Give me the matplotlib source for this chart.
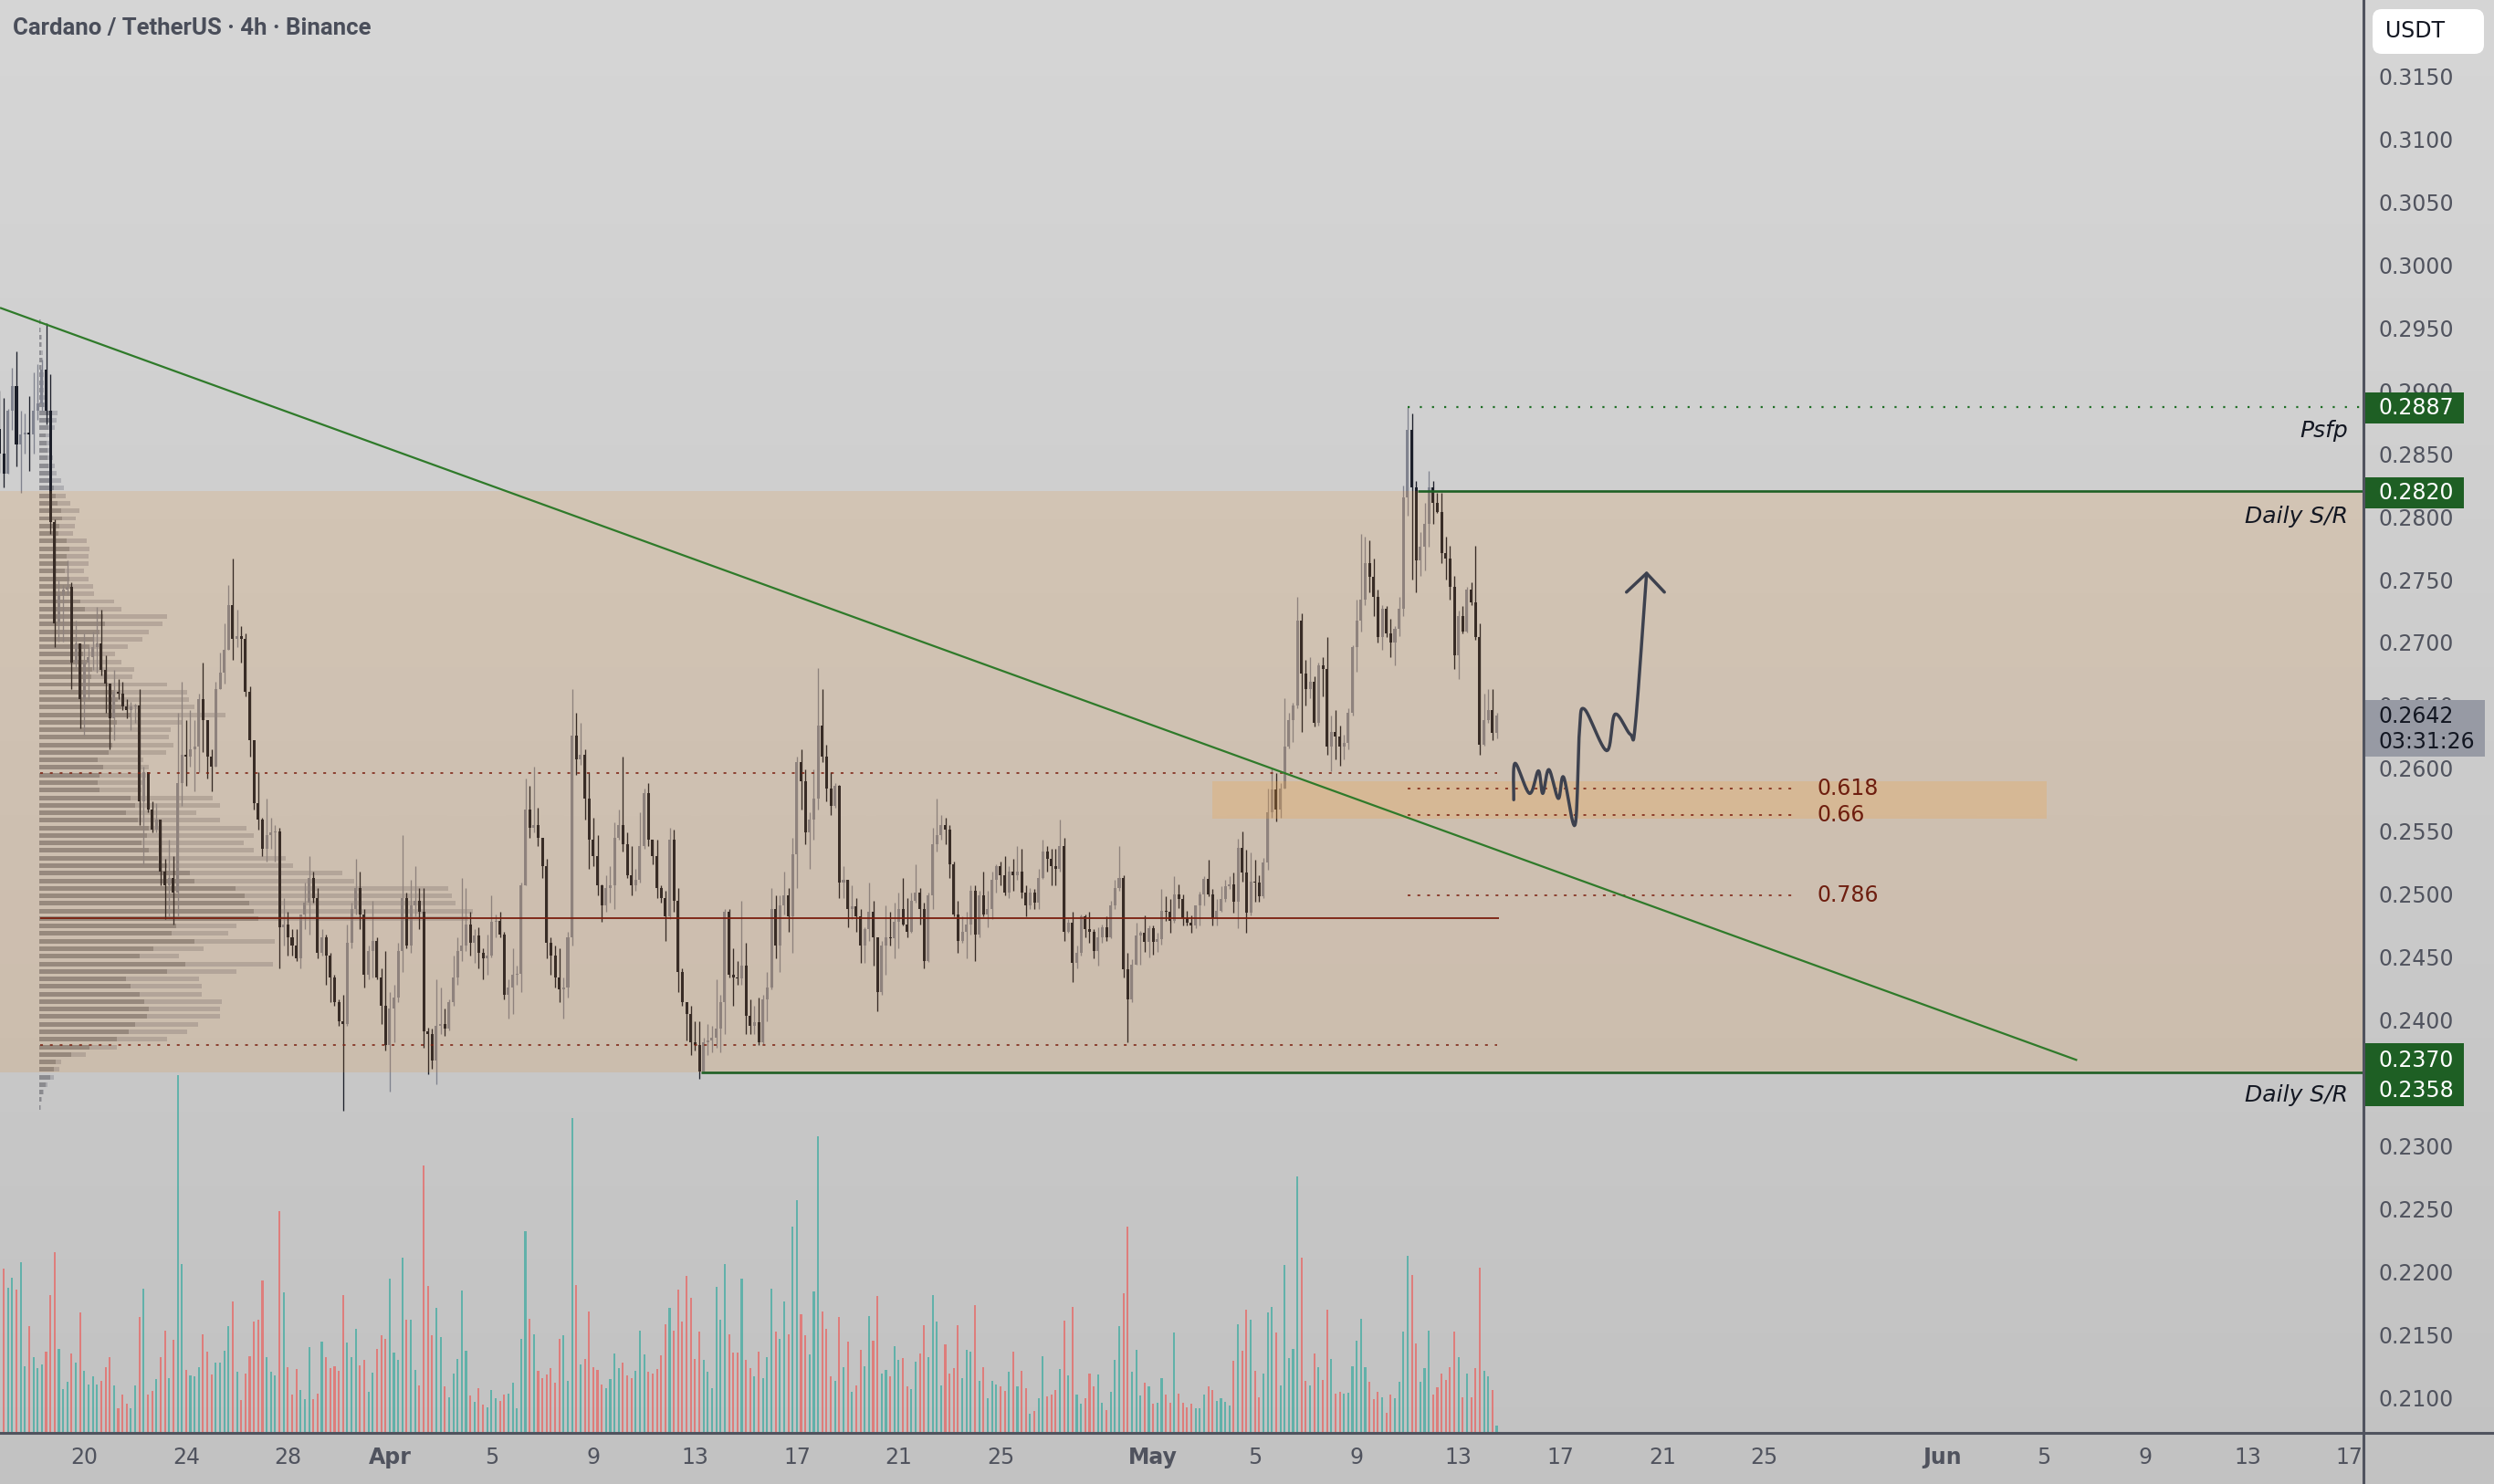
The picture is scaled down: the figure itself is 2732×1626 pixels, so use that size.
import numpy as np
import pandas as pd
import matplotlib
matplotlib.use("Agg")
import matplotlib.pyplot as plt
from matplotlib.patches import Rectangle, FancyBboxPatch
from matplotlib.transforms import blended_transform_factory

# ---------------- data ----------------
title_text = "Cardano / TetherUS · 4h · Binance"
ref_day = pd.Timestamp("2023-03-20")          # day 0 of the time axis
first_bar = "2023-03-16 16:00"
open_first = 0.2870

close = [
 0.2850,0.2834,0.2884,0.2904,0.2857,0.2865,0.2867,0.2865,0.2884,0.2890,
 0.2917,0.2884,0.2796,0.2715,0.2738,0.2742,0.2744,0.2684,0.2699,0.2655,
 0.2684,0.2688,0.2696,0.2699,0.2678,0.2667,0.2640,0.2661,0.2659,0.2649,
 0.2646,0.2649,0.2650,0.2574,0.2597,0.2567,0.2551,0.2559,0.2518,0.2507,
 0.2513,0.2501,0.2588,0.2611,0.2609,0.2615,0.2617,0.2655,0.2638,0.2609,
 0.2601,0.2663,0.2676,0.2694,0.2730,0.2703,0.2705,0.2703,0.2661,0.2622,
 0.2572,0.2559,0.2536,0.2547,0.2549,0.2550,0.2474,0.2476,0.2466,0.2459,
 0.2449,0.2484,0.2493,0.2513,0.2497,0.2453,0.2466,0.2451,0.2434,0.2414,
 0.2399,0.2397,0.2461,0.2488,0.2505,0.2484,0.2436,0.2455,0.2463,0.2434,
 0.2411,0.2380,0.2409,0.2418,0.2455,0.2497,0.2459,0.2491,0.2495,0.2486,
 0.2391,0.2389,0.2368,0.2395,0.2397,0.2393,0.2414,0.2434,0.2455,0.2459,
 0.2476,0.2461,0.2467,0.2453,0.2449,0.2451,0.2478,0.2479,0.2468,0.2420,
 0.2426,0.2436,0.2437,0.2507,0.2567,0.2553,0.2555,0.2545,0.2522,0.2461,
 0.2451,0.2434,0.2424,0.2426,0.2466,0.2626,0.2607,0.2611,0.2576,0.2543,
 0.2530,0.2507,0.2491,0.2505,0.2507,0.2545,0.2555,0.2540,0.2515,0.2507,
 0.2511,0.2538,0.2580,0.2543,0.2530,0.2505,0.2497,0.2482,0.2543,0.2495,
 0.2438,0.2414,0.2405,0.2382,0.2380,0.2359,0.2382,0.2384,0.2386,0.2393,
 0.2414,0.2486,0.2436,0.2434,0.2433,0.2443,0.2403,0.2395,0.2398,0.2382,
 0.2416,0.2426,0.2488,0.2459,0.2491,0.2499,0.2482,0.2532,0.2605,0.2590,
 0.2549,0.2559,0.2576,0.2634,0.2609,0.2584,0.2570,0.2586,0.2509,0.2511,
 0.2488,0.2490,0.2482,0.2459,0.2472,0.2486,0.2466,0.2422,0.2459,0.2466,
 0.2465,0.2478,0.2488,0.2476,0.2470,0.2495,0.2501,0.2488,0.2447,0.2499,
 0.2540,0.2547,0.2555,0.2551,0.2524,0.2484,0.2463,0.2470,0.2476,0.2503,
 0.2468,0.2499,0.2484,0.2488,0.2511,0.2522,0.2515,0.2501,0.2518,0.2515,
 0.2518,0.2501,0.2491,0.2501,0.2493,0.2513,0.2534,0.2528,0.2522,0.2520,
 0.2538,0.2470,0.2477,0.2445,0.2453,0.2482,0.2472,0.2470,0.2455,0.2466,
 0.2474,0.2466,0.2491,0.2505,0.2513,0.2440,0.2416,0.2444,0.2467,0.2469,
 0.2462,0.2473,0.2462,0.2464,0.2487,0.2486,0.2479,0.2500,0.2496,0.2481,
 0.2477,0.2475,0.2491,0.2500,0.2512,0.2500,0.2481,0.2487,0.2496,0.2506,
 0.2508,0.2494,0.2537,0.2517,0.2485,0.2510,0.2509,0.2498,0.2525,0.2565,
 0.2583,0.2567,0.2584,0.2617,0.2638,0.2650,0.2717,0.2675,0.2663,0.2669,
 0.2636,0.2682,0.2679,0.2617,0.2629,0.2625,0.2617,0.2620,0.2644,0.2696,
 0.2717,0.2734,0.2763,0.2752,0.2736,0.2704,0.2727,0.2707,0.2700,0.2711,
 0.2727,0.2815,0.2869,0.2823,0.2765,0.2776,0.2794,0.2823,0.2811,0.2804,
 0.2771,0.2767,0.2744,0.2690,0.2721,0.2709,0.2742,0.2732,0.2704,0.2619,
 0.2638,0.2646,0.2628,0.2642]

high = [
 0.2900,0.2894,0.2886,0.2918,0.2931,0.2884,0.2882,0.2896,0.2915,0.2921,
 0.2925,0.2954,0.2913,0.2798,0.2750,0.2746,0.2765,0.2748,0.2717,0.2699,
 0.2707,0.2696,0.2709,0.2728,0.2726,0.2690,0.2667,0.2678,0.2671,0.2669,
 0.2655,0.2653,0.2651,0.2663,0.2601,0.2597,0.2574,0.2572,0.2559,0.2528,
 0.2543,0.2530,0.2644,0.2669,0.2638,0.2646,0.2638,0.2659,0.2684,0.2638,
 0.2615,0.2669,0.2692,0.2715,0.2746,0.2767,0.2726,0.2713,0.2707,0.2665,
 0.2622,0.2597,0.2561,0.2576,0.2561,0.2555,0.2553,0.2497,0.2486,0.2472,
 0.2472,0.2484,0.2509,0.2530,0.2518,0.2505,0.2472,0.2468,0.2453,0.2436,
 0.2416,0.2420,0.2476,0.2493,0.2528,0.2518,0.2488,0.2459,0.2495,0.2466,
 0.2441,0.2455,0.2422,0.2428,0.2461,0.2547,0.2501,0.2511,0.2522,0.2505,
 0.2505,0.2394,0.2393,0.2432,0.2426,0.2409,0.2416,0.2451,0.2466,0.2513,
 0.2505,0.2486,0.2472,0.2474,0.2457,0.2468,0.2499,0.2484,0.2486,0.2470,
 0.2432,0.2457,0.2443,0.2509,0.2592,0.2586,0.2601,0.2569,0.2545,0.2528,
 0.2466,0.2459,0.2457,0.2434,0.2470,0.2663,0.2644,0.2636,0.2615,0.2597,
 0.2561,0.2547,0.2508,0.2515,0.2522,0.2557,0.2567,0.2609,0.2549,0.2538,
 0.2520,0.2565,0.2584,0.2588,0.2543,0.2543,0.2507,0.2503,0.2553,0.2551,
 0.2505,0.2441,0.2414,0.2411,0.2399,0.2399,0.2386,0.2397,0.2395,0.2432,
 0.2420,0.2488,0.2488,0.2457,0.2447,0.2495,0.2461,0.2416,0.2411,0.2418,
 0.2420,0.2438,0.2505,0.2499,0.2499,0.2518,0.2505,0.2545,0.2609,0.2615,
 0.2599,0.2565,0.2599,0.2680,0.2663,0.2619,0.2597,0.2588,0.2587,0.2522,
 0.2510,0.2507,0.2497,0.2488,0.2474,0.2509,0.2495,0.2466,0.2463,0.2491,
 0.2486,0.2493,0.2501,0.2513,0.2497,0.2501,0.2524,0.2505,0.2493,0.2501,
 0.2553,0.2576,0.2563,0.2561,0.2555,0.2526,0.2495,0.2482,0.2486,0.2507,
 0.2507,0.2503,0.2518,0.2503,0.2518,0.2524,0.2526,0.2530,0.2522,0.2528,
 0.2538,0.2536,0.2507,0.2505,0.2504,0.2520,0.2543,0.2538,0.2536,0.2536,
 0.2559,0.2545,0.2480,0.2486,0.2459,0.2484,0.2484,0.2486,0.2472,0.2474,
 0.2476,0.2482,0.2495,0.2511,0.2538,0.2515,0.2453,0.2448,0.2477,0.2471,
 0.2483,0.2475,0.2475,0.2469,0.2504,0.2498,0.2496,0.2514,0.2508,0.2500,
 0.2487,0.2483,0.2491,0.2502,0.2514,0.2527,0.2504,0.2496,0.2506,0.2511,
 0.2514,0.2517,0.2544,0.2550,0.2535,0.2533,0.2527,0.2515,0.2529,0.2584,
 0.2600,0.2596,0.2588,0.2656,0.2644,0.2652,0.2736,0.2723,0.2686,0.2688,
 0.2673,0.2684,0.2688,0.2704,0.2642,0.2646,0.2634,0.2627,0.2648,0.2698,
 0.2734,0.2786,0.2784,0.2781,0.2767,0.2742,0.2730,0.2729,0.2719,0.2713,
 0.2736,0.2825,0.2887,0.2882,0.2828,0.2788,0.2811,0.2836,0.2828,0.2819,
 0.2819,0.2784,0.2777,0.2753,0.2725,0.2729,0.2744,0.2748,0.2777,0.2715,
 0.2659,0.2663,0.2663,0.2644]

low = [
 0.2835,0.2823,0.2834,0.2869,0.2840,0.2819,0.2850,0.2836,0.2850,0.2877,
 0.2884,0.2873,0.2786,0.2696,0.2701,0.2701,0.2738,0.2663,0.2680,0.2632,
 0.2626,0.2655,0.2678,0.2676,0.2674,0.2644,0.2615,0.2622,0.2655,0.2646,
 0.2640,0.2630,0.2636,0.2555,0.2524,0.2565,0.2549,0.2549,0.2507,0.2480,
 0.2480,0.2476,0.2480,0.2570,0.2586,0.2601,0.2582,0.2597,0.2613,0.2592,
 0.2582,0.2601,0.2663,0.2667,0.2694,0.2686,0.2696,0.2684,0.2657,0.2609,
 0.2567,0.2551,0.2530,0.2526,0.2536,0.2526,0.2441,0.2459,0.2451,0.2451,
 0.2447,0.2441,0.2472,0.2468,0.2493,0.2449,0.2451,0.2428,0.2414,0.2411,
 0.2395,0.2328,0.2395,0.2457,0.2484,0.2472,0.2426,0.2432,0.2434,0.2432,
 0.2397,0.2376,0.2343,0.2382,0.2414,0.2438,0.2457,0.2453,0.2482,0.2472,
 0.2378,0.2357,0.2361,0.2349,0.2389,0.2387,0.2392,0.2411,0.2428,0.2447,
 0.2455,0.2451,0.2445,0.2441,0.2432,0.2436,0.2450,0.2466,0.2466,0.2416,
 0.2401,0.2405,0.2428,0.2422,0.2508,0.2545,0.2549,0.2538,0.2513,0.2449,
 0.2436,0.2426,0.2414,0.2401,0.2418,0.2459,0.2595,0.2603,0.2559,0.2520,
 0.2522,0.2499,0.2478,0.2486,0.2493,0.2488,0.2543,0.2534,0.2513,0.2499,
 0.2503,0.2509,0.2536,0.2538,0.2524,0.2497,0.2493,0.2463,0.2480,0.2486,
 0.2422,0.2411,0.2384,0.2372,0.2376,0.2353,0.2359,0.2372,0.2374,0.2378,
 0.2374,0.2389,0.2434,0.2411,0.2428,0.2428,0.2389,0.2389,0.2389,0.2380,
 0.2381,0.2399,0.2424,0.2449,0.2438,0.2484,0.2470,0.2453,0.2505,0.2567,
 0.2540,0.2520,0.2543,0.2567,0.2605,0.2574,0.2563,0.2569,0.2497,0.2497,
 0.2474,0.2480,0.2470,0.2445,0.2445,0.2463,0.2443,0.2407,0.2420,0.2436,
 0.2459,0.2449,0.2457,0.2475,0.2466,0.2469,0.2493,0.2476,0.2441,0.2446,
 0.2488,0.2534,0.2543,0.2540,0.2513,0.2482,0.2453,0.2461,0.2449,0.2468,
 0.2447,0.2466,0.2482,0.2474,0.2480,0.2501,0.2507,0.2499,0.2497,0.2503,
 0.2511,0.2497,0.2482,0.2488,0.2488,0.2488,0.2512,0.2518,0.2507,0.2507,
 0.2518,0.2463,0.2469,0.2430,0.2441,0.2451,0.2466,0.2461,0.2449,0.2443,
 0.2461,0.2463,0.2465,0.2488,0.2503,0.2434,0.2382,0.2414,0.2444,0.2444,
 0.2454,0.2450,0.2452,0.2454,0.2460,0.2479,0.2469,0.2477,0.2489,0.2475,
 0.2475,0.2469,0.2473,0.2475,0.2491,0.2498,0.2475,0.2475,0.2486,0.2494,
 0.2504,0.2485,0.2473,0.2510,0.2469,0.2483,0.2494,0.2494,0.2497,0.2519,
 0.2561,0.2558,0.2561,0.2584,0.2616,0.2621,0.2648,0.2629,0.2650,0.2656,
 0.2633,0.2634,0.2657,0.2611,0.2598,0.2607,0.2602,0.2607,0.2615,0.2642,
 0.2677,0.2709,0.2730,0.2740,0.2721,0.2700,0.2694,0.2704,0.2688,0.2682,
 0.2705,0.2721,0.2801,0.2750,0.2740,0.2753,0.2757,0.2776,0.2794,0.2803,
 0.2763,0.2750,0.2734,0.2679,0.2671,0.2707,0.2708,0.2730,0.2702,0.2611,
 0.2618,0.2636,0.2622,0.2624]

volume = [
 742,540,478,510,472,562,220,350,250,212,
 225,268,452,595,277,143,167,260,230,397,
 205,158,185,160,172,217,248,157,80,127,
 95,80,157,382,475,125,137,178,248,337,
 180,307,1177,555,208,190,185,215,325,268,
 193,230,232,270,350,433,202,107,195,252,
 367,373,502,248,200,188,730,463,215,125,
 210,140,110,283,112,130,300,250,212,220,
 205,453,298,250,342,222,240,135,197,277,
 320,308,508,265,240,577,372,372,208,157,
 880,483,320,412,315,152,118,195,242,468,
 270,122,102,147,92,85,142,115,105,127,
 130,165,82,310,663,375,325,205,180,192,
 213,165,310,322,170,1035,487,225,242,400,
 215,208,160,148,178,262,213,230,190,180,
 205,337,258,200,195,210,255,358,410,335,
 472,367,517,445,242,332,240,202,148,480,
 373,555,325,265,263,507,240,213,185,267,
 180,250,475,333,310,432,325,677,765,390,
 320,258,465,975,398,342,185,170,382,215,
 300,135,155,273,220,383,303,450,195,208,
 187,285,240,245,152,145,235,262,355,248,
 453,367,155,292,196,212,355,180,272,267,
 420,172,217,115,170,160,153,138,202,267,
 152,205,148,62,73,115,252,120,127,142,
 210,370,190,415,127,97,113,194,152,192,
 98,75,135,240,352,460,678,202,273,122,
 165,152,95,100,180,125,98,330,128,100,
 83,97,80,80,127,152,142,105,115,102,
 90,238,357,270,405,372,205,117,195,397,
 415,330,155,552,247,277,842,577,170,155,
 260,217,175,405,243,130,135,130,132,220,
 303,375,215,167,110,135,118,67,127,115,
 168,333,582,520,295,168,213,337,127,150,
 195,175,215,333,250,118,195,117,212,543,
 205,185,142,25]

# visible-range volume profile (rows from top price downwards)
vp_top_price = 0.29546
vp_row = 0.0006
vp_total = [
 2,2,3,3,4,4,4,5,5,5, 6,8,20,19,17,12,13,13,15,17,
 19,24,27,29,34,44,40,39,37,52, 55,54,54,49,54,59,60,82,90,140,
 135,120,113,97,83,90,104,102,140,162, 164,170,204,157,144,142,147,139,114,120,
 117,114,112,190,198,172,198,227,235,224, 235,270,278,332,345,448,452,456,475,470,
 216,207,258,180,153,256,216,175,178,178, 200,198,198,174,162,140,85,51,24,22,
 16,9,5,3,2]
vp_up = [
 1,1,2,2,2,3,2,3,3,3, 4,5,12,11,10,7,8,9,9,10,
 12,14,16,18,20,24,25,22,21,30, 33,30,32,28,33,36,34,45,50,70,
 72,66,60,55,48,52,58,57,75,82, 86,90,100,85,80,78,80,76,64,70,
 66,64,66,100,105,95,108,120,118,112, 120,130,140,165,170,215,225,230,235,240,
 150,145,170,125,110,160,140,95,100,110, 115,120,118,105,98,85,55,35,18,16,
 12,7,4,2,1]

# horizontal levels / drawings (time in days from ref_day)
sr_upper, sr_lower = 0.2820, 0.2358
sr_upper_from, sr_lower_from = 52.4, 24.25
psfp_level, psfp_from = 0.2887, 52.0
range_high, range_low, poc = 0.2596, 0.2380, 0.2481
range_from, range_to = -1.75, 55.5
trend_days = [-3.3125, 78.31]
trend_prices = [0.2966, 0.2368]
fib_zone_days = (44.31, 77.13)
fib_zone_prices = (0.2560, 0.2590)
fib_names = ["0.618", "0.66", "0.786"]
fib_prices = [0.2584, 0.2563, 0.2499]
fib_from, fib_to, fib_label_day = 52.0, 67.3, 68.1
sketch_days = [56.17, 56.22, 56.79, 57.14, 57.31, 57.55, 57.92, 58.13, 58.58,
               58.75, 58.95, 59.82, 60.15, 60.75, 60.95, 61.39]
sketch_prices = [0.2575, 0.2604, 0.2580, 0.2598, 0.2580, 0.2599, 0.2576, 0.2593, 0.2555,
                 0.2629, 0.2647, 0.2614, 0.2643, 0.2627, 0.2635, 0.2755]
arrow_days = [60.60, 61.39, 62.09]
arrow_prices = [0.2740, 0.2755, 0.2740]

price_ticks = [round(0.2100 + 0.005 * i, 4) for i in range(22) if i != 5]
date_tick_days = [0, 4, 8, 12, 16, 20, 24, 28, 32, 36, 42, 46, 50, 54, 58, 62, 66, 73, 77, 81, 85, 89]
date_tick_labels = ["20", "24", "28", "Apr", "5", "9", "13", "17", "21", "25", "May",
                    "5", "9", "13", "17", "21", "25", "Jun", "5", "9", "13", "17"]
month_labels = {"Apr", "May", "Jun"}
current_price, countdown = "0.2642", "03:31:26"

# ---------------- figure ----------------
W, H = 2732, 1626
AX_R, AX_B = 2589, 1570
fig = plt.figure(figsize=(W / 100, H / 100), dpi=100)

bg = fig.add_axes([0, 0, 1, 1], zorder=0)
grad = np.linspace(214, 194, 256)[:, None] / 255.0
bg.imshow(np.dstack([grad, grad, grad]), aspect="auto", extent=[0, 1, 0, 1],
          interpolation="bicubic")
bg.axis("off")

main_pos = [0, 1 - AX_B / H, AX_R / W, AX_B / H]
XMIN, XMAX = -3.3125, 89.56
YMIN, YMAX = 0.20718, 0.32106

# volume profile axes
vpax = fig.add_axes(main_pos, zorder=1)
vpax.set_xlim(-43, AX_R - 43)
vpax.set_ylim(YMIN, YMAX)
vpax.axis("off")
vp_tot = np.array(vp_total, float)
vp_u = np.array(vp_up, float)
vp_y = vp_top_price - vp_row * np.arange(len(vp_tot))
vpax.barh(vp_y, vp_u, height=vp_row * 0.6, left=0, color="#5e5e66", alpha=0.58, lw=0)
vpax.barh(vp_y, vp_tot - vp_u, height=vp_row * 0.6, left=vp_u, color="#8e8e97", alpha=0.5, lw=0)

# candles
o = np.r_[open_first, close[:-1]]
c = np.array(close)
hi = np.maximum(np.array(high), np.maximum(o, c))
lo = np.minimum(np.array(low), np.minimum(o, c))
times = pd.date_range(first_bar, periods=len(c), freq="4h")
x = ((times - ref_day) / pd.Timedelta(days=1)).values.astype(float)
up = c >= o

# volume axes
vax = fig.add_axes([0, 1 - AX_B / H, AX_R / W, 420 / H], zorder=2)
vax.set_xlim(XMIN, XMAX)
vax.set_ylim(0, 1260)
vax.axis("off")
nv = min(len(volume), len(x))
vcol = np.where(up[:nv], "#26a69a", "#ef5350")
vax.bar(x[:nv], np.array(volume[:nv]), width=0.075, color=vcol, alpha=0.62, lw=0)

ax = fig.add_axes(main_pos, zorder=3)
ax.set_facecolor("none")
ax.set_xlim(XMIN, XMAX)
ax.set_ylim(YMIN, YMAX)
for s in ax.spines.values():
    s.set_visible(False)

UPC, DNC = "#80838f", "#1c1f2a"
ccol = np.where(up, UPC, DNC)
ax.vlines(x, lo, hi, colors=ccol, lw=0.95, zorder=3)
body_lo = np.minimum(o, c)
body_h = np.maximum(np.abs(c - o), 0.00009)
ax.bar(x, body_h, bottom=body_lo, width=0.108, color=ccol, lw=0, zorder=4)

# Daily S/R zone overlay
ax.axhspan(sr_lower, sr_upper, color=(0.90, 0.51, 0.08), alpha=0.14, lw=0, zorder=5)

# fib zone
ax.add_patch(Rectangle((fib_zone_days[0], fib_zone_prices[0]),
                       fib_zone_days[1] - fib_zone_days[0],
                       fib_zone_prices[1] - fib_zone_prices[0],
                       facecolor="#f0a040", alpha=0.24, lw=0, zorder=5.5))

RED = "#7a1e0e"
ax.hlines([range_high, range_low], range_from, range_to, colors=RED, lw=1.1,
          linestyles=[(0, (2, 5))], zorder=6)
ax.hlines(poc, range_from, range_to + 0.1, colors=RED, lw=1.3, zorder=6)
ax.hlines(fib_prices, fib_from, fib_to, colors=RED, lw=1.1, linestyles=[(0, (2, 5))], zorder=6)
for nm, pv in zip(fib_names, fib_prices):
    ax.text(fib_label_day, pv, nm, color="#6e1e0f", fontsize=17, ha="left", va="center",
            family="DejaVu Sans", zorder=7)

# trendline and S/R lines
ax.plot(trend_days, trend_prices, color="#2f7a2a", lw=1.6, zorder=6, solid_capstyle="butt")
ax.hlines(sr_upper, sr_upper_from, XMAX, colors="#1e5f24", lw=1.9, zorder=6)
ax.hlines(sr_lower, sr_lower_from, XMAX, colors="#1e5f24", lw=1.9, zorder=6)
ax.hlines(psfp_level, psfp_from, XMAX, colors="#1e6f24", lw=1.6,
          linestyles=[(0, (1, 5))], zorder=6)

# hand drawn projection (rendered as a smooth brush stroke through its points)
def brush(xs, ys, n=12):
    P = np.column_stack([xs, ys])
    P = np.vstack([P[0], P, P[-1]])
    out = []
    for i in range(1, len(P) - 2):
        p0, p1, p2, p3 = P[i - 1], P[i], P[i + 1], P[i + 2]
        for t in np.linspace(0, 1, n, endpoint=False):
            t2, t3 = t * t, t * t * t
            out.append(0.5 * ((2 * p1) + (-p0 + p2) * t + (2 * p0 - 5 * p1 + 4 * p2 - p3) * t2
                              + (-p0 + 3 * p1 - 3 * p2 + p3) * t3))
    out.append(P[-2])
    out = np.array(out)
    return out[:, 0], out[:, 1]

bx_, by_ = brush(sketch_days, sketch_prices)
ax.plot(bx_, by_, color="#3d414e", lw=2.5, solid_joinstyle="round",
        solid_capstyle="round", zorder=8)
ax.plot(arrow_days, arrow_prices, color="#3d414e", lw=2.5, solid_joinstyle="round",
        solid_capstyle="round", zorder=8)

# labels on chart
tr = blended_transform_factory(ax.transAxes, ax.transData)
rx = 2572 / AX_R
ax.text(rx, 0.28683, "Psfp", transform=tr, ha="right", va="center", fontsize=18,
        style="italic", color="#131722", family="DejaVu Sans", zorder=9)
ax.text(rx, 0.28001, "Daily S/R", transform=tr, ha="right", va="center", fontsize=18,
        style="italic", color="#131722", family="DejaVu Sans", zorder=9)
ax.text(rx, 0.23402, "Daily S/R", transform=tr, ha="right", va="center", fontsize=18,
        style="italic", color="#131722", family="DejaVu Sans", zorder=9)

# axes ticks
ax.yaxis.tick_right()
ax.set_yticks(price_ticks)
ax.set_yticklabels([f"{v:.4f}" for v in price_ticks])
ax.tick_params(axis="y", length=0, pad=12.2, labelsize=17, labelcolor="#50535e")
ax.set_xticks(date_tick_days)
ax.set_xticklabels(date_tick_labels)
ax.tick_params(axis="x", length=0, pad=11, labelsize=17, labelcolor="#50535e")
for lbl in ax.get_xticklabels() + ax.get_yticklabels():
    lbl.set_family("DejaVu Sans")
for lbl in ax.get_xticklabels():
    if lbl.get_text() in month_labels:
        lbl.set_fontweight("bold")

# price-scale labels
bx0, bx1 = 2590 / AX_R, 2699 / AX_R
lx = 2606 / AX_R
GREEN = "#1e5f24"
def green_box(p_lo, p_hi):
    ax.add_patch(Rectangle((bx0, p_lo), bx1 - bx0, p_hi - p_lo, transform=tr,
                           facecolor=GREEN, lw=0, clip_on=False, zorder=10))
green_box(0.28742, 0.28984)
ax.text(lx, 0.28863, f"{psfp_level:.4f}", transform=tr, color="white", fontsize=17,
        va="center", ha="left", family="DejaVu Sans", zorder=11)
green_box(0.28068, 0.28309)
ax.text(lx, 0.28189, f"{sr_upper:.4f}", transform=tr, color="white", fontsize=17,
        va="center", ha="left", family="DejaVu Sans", zorder=11)
green_box(0.23315, 0.23815)
ax.text(lx, 0.23681, "0.2370", transform=tr, color="white", fontsize=17,
        va="center", ha="left", family="DejaVu Sans", zorder=11)
ax.text(lx, 0.23435, f"{sr_lower:.4f}", transform=tr, color="white", fontsize=17,
        va="center", ha="left", family="DejaVu Sans", zorder=11)
ax.add_patch(Rectangle((bx0, 0.26093), 2722 / AX_R - bx0, 0.26543 - 0.26093, transform=tr,
                       facecolor="#979aa4", lw=0, clip_on=False, zorder=10))
ax.text(lx, 0.26412, current_price, transform=tr, color="#131722", fontsize=17,
        va="center", ha="left", family="DejaVu Sans", zorder=11)
ax.text(lx, 0.26209, countdown, transform=tr, color="#131722", fontsize=17,
        va="center", ha="left", family="DejaVu Sans", zorder=11)

# overlay: frame lines, title, currency box (pixel coordinates)
ov = fig.add_axes([0, 0, 1, 1], zorder=5)
ov.set_xlim(0, W)
ov.set_ylim(H, 0)
ov.axis("off")
ov.plot([AX_R, AX_R], [0, H], color="#50535e", lw=2.2)
ov.plot([0, W], [AX_B, AX_B], color="#50535e", lw=2.2)
ov.add_patch(FancyBboxPatch((2599, 10), 122, 49, boxstyle="round,pad=0,rounding_size=10",
                            facecolor="white", edgecolor="none"))
ov.text(2646, 34, "USDT", ha="center", va="center", fontsize=17, color="#131722",
        family="DejaVu Sans")
ov.text(14, 31, title_text, ha="left", va="center", fontsize=18.5, color="#4a4e5a",
        family=["Roboto", "DejaVu Sans"], fontweight="bold")

fig.savefig("out.png", dpi=100)
